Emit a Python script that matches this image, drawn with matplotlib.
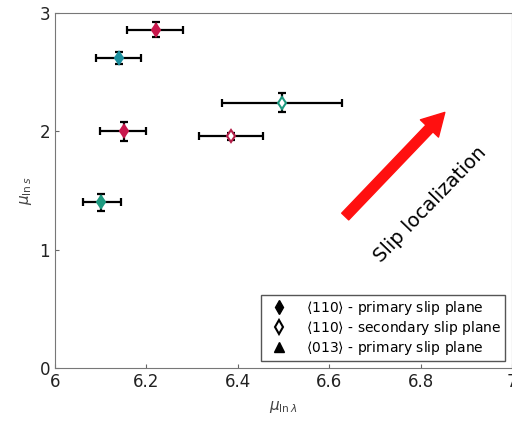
import numpy as np
import matplotlib.pyplot as plt
from matplotlib.lines import Line2D

# filled diamonds, <110> primary / <013> primary
x_fill = [6.22, 6.14, 6.15, 6.10]
y_fill = [2.86, 2.62, 2.00, 1.40]
xlo_fill = [6.157, 6.09, 6.098, 6.061]
xhi_fill = [6.280, 6.188, 6.20, 6.144]
yerr_fill = [0.06, 0.05, 0.08, 0.07]
col_fill = ['#c8174c', '#1a8f9e', '#c8174c', '#1e9a80']

# open diamonds, <110> secondary
x_open = [6.385, 6.497]
y_open = [1.96, 2.24]
xlo_open = [6.315, 6.365]
xhi_open = [6.455, 6.628]
yerr_open = [0.03, 0.08]
col_open = ['#b5204a', '#1e9a80']

legend_labels = [r'$\langle 110\rangle$ - primary slip plane',
                 r'$\langle 110\rangle$ - secondary slip plane',
                 r'$\langle 013\rangle$ - primary slip plane']

fig = plt.figure(figsize=(5.12, 4.24), dpi=100)
ax = fig.add_axes([55/512, 56/424, 457/512, 355/424])

def draw(xs, ys, lo, hi, ye, cols, filled):
    xs = np.array(xs)
    xerr = [xs - np.array(lo), np.array(hi) - xs]
    ax.errorbar(xs, ys, xerr=xerr, yerr=ye, fmt='none', ecolor='black',
                elinewidth=1.6, capsize=3, capthick=1.6, zorder=2)
    for xi, yi, c in zip(xs, ys, cols):
        ax.plot(xi, yi, marker='d', markersize=6.5, markeredgewidth=1.5,
                markerfacecolor=c if filled else 'white', markeredgecolor=c,
                linestyle='none', zorder=3)

draw(x_fill, y_fill, xlo_fill, xhi_fill, yerr_fill, col_fill, True)
draw(x_open, y_open, xlo_open, xhi_open, yerr_open, col_open, False)

ax.annotate('', xy=(6.853, 2.16), xytext=(6.635, 1.28),
            arrowprops=dict(facecolor='#ff1010', edgecolor='#ff1010',
                            width=7, headwidth=18, headlength=16))
ax.text(6.82, 1.38, 'Slip localization', rotation=46, fontsize=14,
        ha='center', va='center', rotation_mode='anchor')

ax.set_xlim(6, 7)
ax.set_ylim(0, 3)
ax.set_xticks([6, 6.2, 6.4, 6.6, 6.8, 7])
ax.set_xticklabels(['6', '6.2', '6.4', '6.6', '6.8', '7'])
ax.set_yticks([0, 1, 2, 3])
ax.tick_params(direction='in', length=3, labelsize=12, colors='#666666',
               labelcolor='#222222')
for s in ax.spines.values():
    s.set_color('#777777')
ax.set_xlabel(r'$\mu_{\ln\lambda}$', fontsize=11, color='#444444', labelpad=6)
ax.set_ylabel(r'$\mu_{\ln s}$', fontsize=11, color='#444444')

handles = [Line2D([], [], marker='d', color='black', markerfacecolor='black',
                  linestyle='none', markersize=7),
           Line2D([], [], marker='d', color='black', markerfacecolor='white',
                  linestyle='none', markersize=7, markeredgewidth=1.5),
           Line2D([], [], marker='^', color='black', markerfacecolor='black',
                  linestyle='none', markersize=7)]
leg = ax.legend(handles, legend_labels, loc='lower right', fontsize=10,
                fancybox=False, framealpha=1, edgecolor='#555555',
                borderaxespad=0.5, handletextpad=0.9, labelspacing=0.15,
                borderpad=0.3, handlelength=2.0)

fig.savefig('out.png', dpi=100)
